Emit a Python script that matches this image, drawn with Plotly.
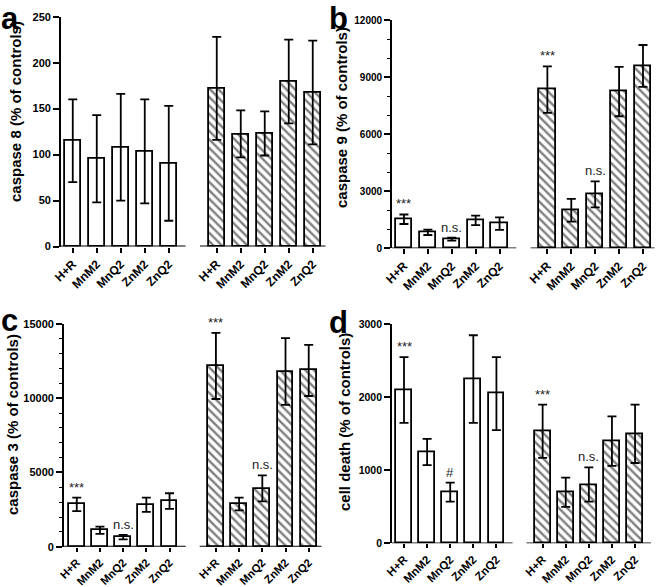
import plotly.graph_objects as go

categories = ["H+R", "MnM2", "MnQ2", "ZnM2", "ZnQ2"]

# panel a: caspase 8
casp8_g1 = [115, 95, 108, 103, 90]
casp8_g1_hi = [160, 143, 166, 160, 153]
casp8_g1_lo = [70, 48, 50, 47, 28]
casp8_g2 = [172, 122, 123, 179, 167]
casp8_g2_hi = [228, 148, 147, 225, 224]
casp8_g2_lo = [116, 97, 99, 134, 111]

# panel b: caspase 9
casp9_g1 = [1530, 840, 480, 1470, 1300]
casp9_g1_hi = [1780, 980, 560, 1720, 1630]
casp9_g1_lo = [1280, 700, 400, 1220, 970]
casp9_g2 = [8350, 2000, 2850, 8250, 9600]
casp9_g2_hi = [9570, 2600, 3520, 9550, 10700]
casp9_g2_lo = [7130, 1400, 2150, 6950, 8500]

# panel c: caspase 3
casp3_g1 = [2850, 1100, 650, 2800, 3050]
casp3_g1_hi = [3300, 1350, 800, 3300, 3600]
casp3_g1_lo = [2400, 870, 500, 2350, 2550]
casp3_g2 = [12150, 2900, 3900, 11800, 11900]
casp3_g2_hi = [14400, 3300, 4800, 14050, 13600]
casp3_g2_lo = [9950, 2450, 3050, 9550, 10150]

# panel d: cell death
death_g1 = [2100, 1250, 700, 2250, 2050]
death_g1_hi = [2550, 1430, 830, 2850, 2550]
death_g1_lo = [1650, 1070, 570, 1650, 1550]
death_g2 = [1540, 700, 800, 1400, 1500]
death_g2_hi = [1900, 900, 1040, 1740, 1900]
death_g2_lo = [1170, 500, 570, 1060, 1100]

panel_letters = ["a", "b", "c", "d"]
y_titles = ["caspase 8 (% of controls)", "caspase 9 (% of controls)",
            "caspase 3 (% of controls)", "cell death (% of controls)"]
y_max = [250, 12000, 15000, 3000]
y_dtick = [50, 3000, 5000, 1000]
y_minor = [None, 1000, 1000, None]

# significance marks: (group, category index, text)
marks = [
    [],
    [(1, 0, "***"), (1, 2, "n.s."), (2, 0, "***"), (2, 2, "n.s.")],
    [(1, 0, "***"), (1, 2, "n.s."), (2, 0, "***"), (2, 2, "n.s.")],
    [(1, 0, "***"), (1, 2, "#"), (2, 0, "***"), (2, 2, "n.s.")],
]

panels = [
    (casp8_g1, casp8_g1_hi, casp8_g1_lo, casp8_g2, casp8_g2_hi, casp8_g2_lo),
    (casp9_g1, casp9_g1_hi, casp9_g1_lo, casp9_g2, casp9_g2_hi, casp9_g2_lo),
    (casp3_g1, casp3_g1_hi, casp3_g1_lo, casp3_g2, casp3_g2_hi, casp3_g2_lo),
    (death_g1, death_g1_hi, death_g1_lo, death_g2, death_g2_hi, death_g2_lo),
]

W, H = 658, 587
# plot areas in pixels: (left, right, top, bottom)
boxes = [(61, 325.7, 16.7, 246.5), (392, 654.7, 20.3, 248.3),
         (64, 321.7, 324, 546.7), (392, 651, 324.3, 543.3)]
x_ranges = [(-0.49, 10.54), (-0.5, 10.49), (-0.55, 10.56), (-0.52, 10.69)]
ytick_size = [11, 10, 11, 10.5]
xtick_size = [12, 12, 11.2, 11.5]
xtick_len = [5, 5, 4, 4]
title_pos = [(15, 112), (341, 117), (12, 425), (344, 422)]
letter_pos = [(0, 0), (328, 0), (0, 302), (328, 304)]

FONT = "Liberation Sans, Arial, sans-serif"

fig = go.Figure()
layout = dict(width=W, height=H, margin=dict(l=0, r=0, t=0, b=0, autoexpand=False),
              paper_bgcolor="white", plot_bgcolor="white", showlegend=False,
              font=dict(family=FONT, color="black"), bargap=0)
shapes, annotations = [], []

pos_g1 = [0, 1, 2, 3, 4]
pos_g2 = [6, 7, 8, 9, 10]

for p, (g1, g1hi, g1lo, g2, g2hi, g2lo) in enumerate(panels):
    sfx = "" if p == 0 else str(p + 1)
    xa, ya = "x" + sfx, "y" + sfx
    l, r, t, b = boxes[p]
    for pos, vals, hi, lo, hatch in [(pos_g1, g1, g1hi, g1lo, False),
                                      (pos_g2, g2, g2hi, g2lo, True)]:
        marker = dict(color="white", line=dict(color="black", width=1.8))
        if hatch:
            marker["pattern"] = dict(shape="\\", fgcolor="black", bgcolor="white",
                                     size=6, solidity=0.4)
        fig.add_trace(go.Bar(
            x=pos, y=vals, width=0.68, xaxis=xa, yaxis=ya, marker=marker,
            error_y=dict(type="data", symmetric=False,
                         array=[h - v for h, v in zip(hi, vals)],
                         arrayminus=[v - lo_ for v, lo_ in zip(vals, lo)],
                         color="black", thickness=1.8, width=4.5),
        ))
    xr = x_ranges[p]
    layout["xaxis" + sfx] = dict(
        domain=[l / W, r / W], anchor=ya, range=list(xr), automargin=False,
        tickvals=pos_g1 + pos_g2, ticktext=categories + categories,
        tickangle=-45, ticks="outside", ticklen=xtick_len[p], tickwidth=1.8,
        tickcolor="black", showline=False, showgrid=False, zeroline=False,
        tickfont=dict(size=xtick_size[p], family=FONT, weight="bold", color="black"),
        fixedrange=True)
    ykw = dict(
        domain=[1 - b / H, 1 - t / H], anchor=xa, range=[0, y_max[p]],
        automargin=False, tickformat="d",
        dtick=y_dtick[p], tick0=0, ticks="outside", ticklen=6, tickwidth=1.8,
        tickcolor="black", showline=True, linewidth=1.8, linecolor="black",
        showgrid=False, zeroline=False,
        tickfont=dict(size=ytick_size[p], family=FONT, weight="bold", color="black"))
    if y_minor[p]:
        ykw["minor"] = dict(dtick=y_minor[p], ticks="outside", ticklen=3.5,
                            tickwidth=1.3, tickcolor="black", showgrid=False)
    layout["yaxis" + sfx] = ykw
    # broken x axis line
    for x0, x1 in [(xr[0], 4.7), (5.3, xr[1])]:
        shapes.append(dict(type="line", xref=xa, yref=ya, x0=x0, x1=x1, y0=0, y1=0,
                           line=dict(color="black", width=1.8)))
    # y title
    tx, ty = title_pos[p]
    annotations.append(dict(text=y_titles[p], xref="paper", yref="paper",
                            x=tx / W, y=1 - ty / H, xanchor="center", yanchor="middle",
                            textangle=-90, showarrow=False,
                            font=dict(size=15, family=FONT, weight="bold", color="black")))
    # panel letter
    lx, ly = letter_pos[p]
    annotations.append(dict(text=panel_letters[p], xref="paper", yref="paper",
                            x=lx / W, y=1 - ly / H, xanchor="left", yanchor="top",
                            showarrow=False, borderpad=0,
                            font=dict(size=31, family=FONT, weight="bold", color="black")))
    # significance marks
    for grp, idx, txt in marks[p]:
        hi = g1hi if grp == 1 else g2hi
        pos = pos_g1 if grp == 1 else pos_g2
        annotations.append(dict(text=txt, xref=xa, yref=ya, x=pos[idx], y=hi[idx],
                                xanchor="center", yanchor="bottom", yshift=1,
                                showarrow=False,
                                font=dict(size=13, family=FONT, color="#222")))

layout["shapes"] = shapes
layout["annotations"] = annotations
fig.update_layout(**layout)
fig.write_html("out.html", config={"displayModeBar": False},
               post_script="document.body.style.margin='0px';document.body.style.overflow='hidden';")
